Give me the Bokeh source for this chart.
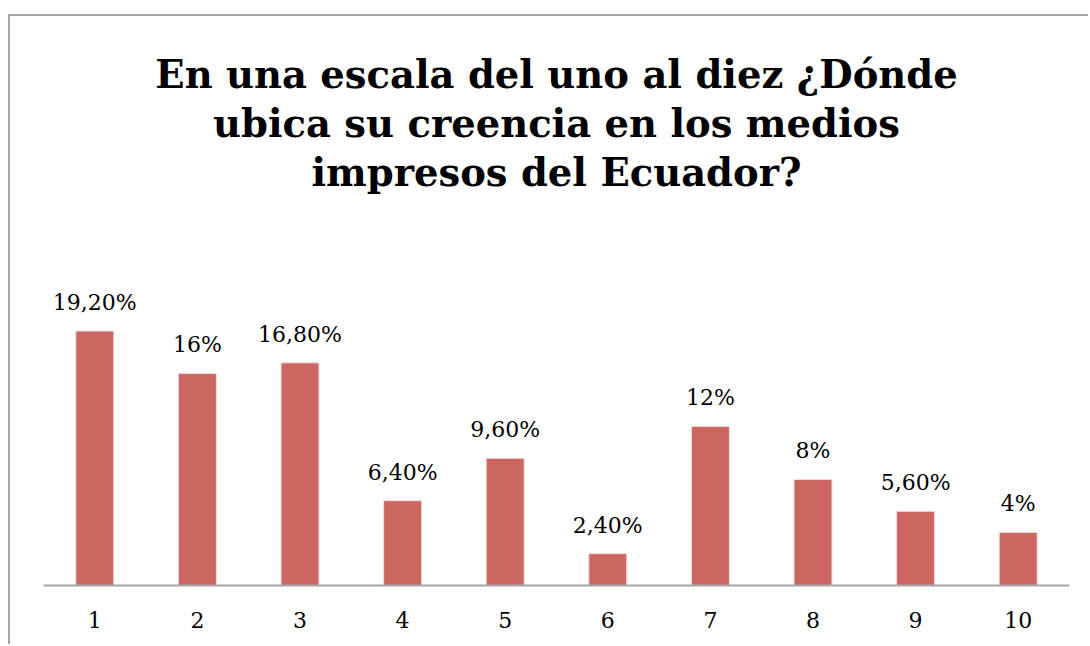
from bokeh.plotting import figure
from bokeh.models import ColumnDataSource, LabelSet, Title, Range1d, FactorRange
from bokeh.core.properties import value
from bokeh.embed import file_html
from bokeh.resources import INLINE

categories = ["1", "2", "3", "4", "5", "6", "7", "8", "9", "10"]
values = [19.2, 16.0, 16.8, 6.4, 9.6, 2.4, 12.0, 8.0, 5.6, 4.0]
labels = ["19,20%", "16%", "16,80%", "6,40%", "9,60%", "2,40%", "12%", "8%", "5,60%", "4%"]
title_lines = [
    "En una escala del uno al diez ¿Dónde",
    "ubica su creencia en los medios",
    "impresos del Ecuador?",
]

source = ColumnDataSource(dict(cat=categories, val=values, lab=labels))

p = figure(
    width=1080, height=630,
    x_range=FactorRange(*categories, range_padding=0),
    y_range=Range1d(0, 29.43),
    output_backend="svg", toolbar_location=None,
    min_border_left=33, min_border_right=21,
    min_border_bottom=61, min_border_top=179,
)
p.styles = {"margin-top": "14px", "margin-left": "8px",
            "border-left": "2px solid #A6A6A6",
            "border-top": "2px solid #A6A6A6"}

for line in reversed(title_lines):
    p.add_layout(Title(text=line, align="center",
                       text_font="DejaVu Serif",
                       text_font_size="38.5px", text_font_style="bold",
                       text_color="black", standoff=2), "above")

p.vbar(x="cat", top="val", width=0.37, source=source,
       fill_color="#CC6660", line_color="#F4DCDA", line_width=1)

p.add_layout(LabelSet(x="cat", y="val", text="lab", source=source,
                      text_align="center", text_baseline="alphabetic", y_offset=21,
                      text_font=value("DejaVu Serif"), text_font_size="22px",
                      text_color="black"))

p.yaxis.visible = False
p.grid.visible = False
p.outline_line_color = None
p.border_fill_color = "white"
p.xaxis.axis_line_color = "#A6A6A6"
p.xaxis.axis_line_width = 2
p.xaxis.major_tick_line_color = None
p.xaxis.minor_tick_line_color = None
p.xaxis.major_label_text_font = "DejaVu Serif"
p.xaxis.major_label_text_font_size = "22px"
p.xaxis.major_label_text_color = "black"
p.xaxis.major_label_standoff = 20

open("out.html", "w").write(file_html(p, INLINE))
